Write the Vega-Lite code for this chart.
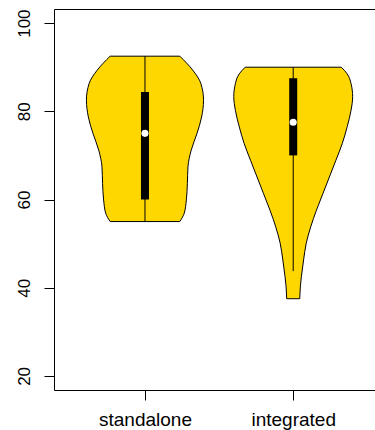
{
  "$schema": "https://vega.github.io/schema/vega-lite/v6.json",
  "width": 321,
  "height": 381,
  "autosize": {"type": "none"},
  "padding": {"left": 54, "top": 9, "right": 0, "bottom": 40},
  "background": "white",
  "config": {
    "view": {"stroke": null},
    "font": "Liberation Sans",
    "axis": {"labelFont": "Liberation Sans", "labelColor": "black", "domainColor": "black", "tickColor": "black", "domainWidth": 1, "tickWidth": 1, "grid": false, "title": null}
  },
  "datasets": {
    "violin": [
      {"group": "standalone", "center": 1, "value": 55.0, "density": 0.235},
      {"group": "standalone", "center": 1, "value": 56.8, "density": 0.264},
      {"group": "standalone", "center": 1, "value": 59.9, "density": 0.279},
      {"group": "standalone", "center": 1, "value": 63.6, "density": 0.286},
      {"group": "standalone", "center": 1, "value": 67.4, "density": 0.290},
      {"group": "standalone", "center": 1, "value": 71.2, "density": 0.312},
      {"group": "standalone", "center": 1, "value": 75.0, "density": 0.351},
      {"group": "standalone", "center": 1, "value": 78.7, "density": 0.382},
      {"group": "standalone", "center": 1, "value": 82.5, "density": 0.395},
      {"group": "standalone", "center": 1, "value": 86.3, "density": 0.377},
      {"group": "standalone", "center": 1, "value": 89.3, "density": 0.323},
      {"group": "standalone", "center": 1, "value": 92.5, "density": 0.235},
      {"group": "integrated", "center": 2, "value": 37.5, "density": 0.044},
      {"group": "integrated", "center": 2, "value": 40.2, "density": 0.048},
      {"group": "integrated", "center": 2, "value": 42.5, "density": 0.055},
      {"group": "integrated", "center": 2, "value": 46.3, "density": 0.070},
      {"group": "integrated", "center": 2, "value": 50.1, "density": 0.088},
      {"group": "integrated", "center": 2, "value": 53.8, "density": 0.118},
      {"group": "integrated", "center": 2, "value": 57.6, "density": 0.157},
      {"group": "integrated", "center": 2, "value": 61.4, "density": 0.201},
      {"group": "integrated", "center": 2, "value": 65.1, "density": 0.244},
      {"group": "integrated", "center": 2, "value": 68.9, "density": 0.288},
      {"group": "integrated", "center": 2, "value": 72.7, "density": 0.331},
      {"group": "integrated", "center": 2, "value": 76.5, "density": 0.364},
      {"group": "integrated", "center": 2, "value": 80.2, "density": 0.390},
      {"group": "integrated", "center": 2, "value": 83.3, "density": 0.401},
      {"group": "integrated", "center": 2, "value": 86.3, "density": 0.390},
      {"group": "integrated", "center": 2, "value": 88.5, "density": 0.364},
      {"group": "integrated", "center": 2, "value": 90.0, "density": 0.324}
    ],
    "stats": [
      {"group": "standalone", "center": 1, "whiskerLow": 55.0, "q1": 60.0, "median": 75.0, "q3": 84.4, "whiskerHigh": 92.5},
      {"group": "integrated", "center": 2, "whiskerLow": 43.75, "q1": 70.0, "median": 77.5, "q3": 87.5, "whiskerHigh": 90.0}
    ]
  },
  "resolve": {"axis": {"x": "independent"}},
  "layer": [
    {
      "data": {"name": "violin"},
      "transform": [
        {"calculate": "datum.center - datum.density", "as": "left"},
        {"calculate": "datum.center + datum.density", "as": "right"}
      ],
      "mark": {"type": "area", "orient": "horizontal", "fill": "#FFD700", "stroke": "black", "strokeWidth": 1, "interpolate": "monotone"},
      "encoding": {
        "y": {"field": "value", "type": "quantitative", "scale": {"domain": [16.8, 103.2], "nice": false, "zero": false},
              "axis": {"values": [20, 40, 60, 80, 100], "tickSize": 10, "labelAngle": -90, "labelAlign": "center", "labelBaseline": "bottom", "labelPadding": 11, "labelFontSize": 17}},
        "x": {"field": "left", "type": "quantitative", "scale": {"domain": [0.42, 2.518], "nice": false, "zero": false},
              "axis": {"orient": "bottom", "values": [1, 2], "tickSize": 10, "labelPadding": 10, "labelFontSize": 19, "labelExpr": "datum.value == 1 ? 'standalone' : 'integrated'"}},
        "x2": {"field": "right"},
        "detail": {"field": "group"}
      }
    },
    {
      "data": {"name": "stats"},
      "mark": {"type": "rule", "color": "black", "strokeWidth": 1},
      "encoding": {
        "x": {"field": "center", "type": "quantitative",
              "axis": {"orient": "top", "labels": false, "ticks": false, "domain": true}},
        "y": {"field": "whiskerLow", "type": "quantitative"},
        "y2": {"field": "whiskerHigh"}
      }
    },
    {
      "data": {"name": "stats"},
      "mark": {"type": "bar", "orient": "vertical", "width": 8, "color": "black"},
      "encoding": {
        "x": {"field": "center", "type": "quantitative", "axis": null},
        "y": {"field": "q1", "type": "quantitative"},
        "y2": {"field": "q3"}
      }
    },
    {
      "data": {"name": "stats"},
      "mark": {"type": "point", "filled": true, "color": "white", "opacity": 1, "size": 50},
      "encoding": {
        "x": {"field": "center", "type": "quantitative", "axis": null},
        "y": {"field": "median", "type": "quantitative"}
      }
    }
  ]
}
